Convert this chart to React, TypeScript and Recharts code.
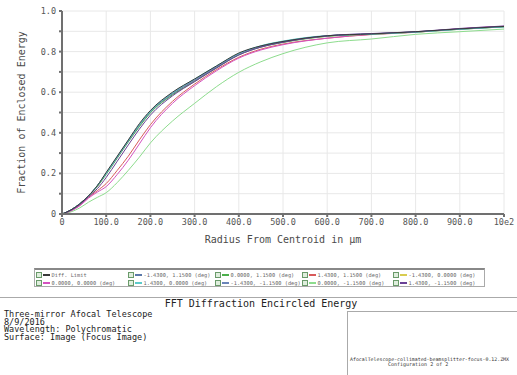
import React from 'react';
import { LineChart, Line, XAxis, YAxis, CartesianGrid } from 'recharts';

// radius from centroid (µm)
const radius = [0, 20, 40, 60, 80, 100, 125, 150, 175, 200, 250, 300, 350, 400, 450, 500, 600, 700, 800, 900, 1000];

const diffLimit = [0, 0.02, 0.05, 0.09, 0.14, 0.205, 0.285, 0.365, 0.445, 0.51, 0.6, 0.665, 0.73, 0.793, 0.828, 0.85, 0.878, 0.887, 0.898, 0.912, 0.924];
const fM143P115 = [0, 0.02, 0.05, 0.09, 0.14, 0.2, 0.28, 0.36, 0.437, 0.503, 0.592, 0.658, 0.724, 0.788, 0.825, 0.848, 0.877, 0.887, 0.897, 0.911, 0.923];
const f0P115 = [0, 0.02, 0.048, 0.088, 0.135, 0.195, 0.275, 0.355, 0.43, 0.498, 0.587, 0.653, 0.72, 0.784, 0.822, 0.845, 0.875, 0.886, 0.896, 0.91, 0.922];
const fP143P115 = [0, 0.016, 0.042, 0.082, 0.115, 0.15, 0.215, 0.285, 0.365, 0.44, 0.555, 0.64, 0.712, 0.772, 0.812, 0.837, 0.866, 0.884, 0.895, 0.912, 0.924];
const fM143Z0 = [0, 0.02, 0.05, 0.09, 0.138, 0.2, 0.28, 0.358, 0.435, 0.502, 0.59, 0.656, 0.722, 0.786, 0.825, 0.847, 0.876, 0.886, 0.896, 0.91, 0.922];
const f0Z0 = [0, 0.015, 0.04, 0.078, 0.108, 0.135, 0.195, 0.265, 0.345, 0.425, 0.545, 0.632, 0.706, 0.768, 0.808, 0.834, 0.866, 0.885, 0.896, 0.913, 0.925];
const fP143Z0 = [0, 0.02, 0.05, 0.09, 0.14, 0.2, 0.282, 0.362, 0.44, 0.506, 0.597, 0.665, 0.73, 0.79, 0.829, 0.852, 0.879, 0.886, 0.896, 0.91, 0.922];
const fM143M115 = [0, 0.02, 0.05, 0.09, 0.14, 0.2, 0.28, 0.36, 0.437, 0.505, 0.594, 0.66, 0.726, 0.789, 0.827, 0.849, 0.878, 0.888, 0.897, 0.911, 0.923];
const f0M115 = [0, 0.01, 0.03, 0.058, 0.082, 0.105, 0.155, 0.215, 0.28, 0.35, 0.458, 0.545, 0.628, 0.698, 0.75, 0.79, 0.843, 0.862, 0.885, 0.898, 0.911];
const fP143M115 = [0, 0.018, 0.046, 0.085, 0.125, 0.18, 0.26, 0.34, 0.418, 0.487, 0.582, 0.652, 0.72, 0.783, 0.822, 0.846, 0.878, 0.889, 0.898, 0.914, 0.926];

const xTicks = [0, 100, 200, 300, 400, 500, 600, 700, 800, 900, 1000];
const yTicks = [0, 0.1, 0.2, 0.3, 0.4, 0.5, 0.6, 0.7, 0.8, 0.9, 1.0];

// legend order (row by row), draw order is separate
const SERIES = [
  { key: 'diff', name: 'Diff. Limit', color: '#3a3a3a', values: diffLimit },
  { key: 'm143p115', name: '-1.4300, 1.1500 (deg)', color: '#5b78a8', values: fM143P115 },
  { key: 'z0p115', name: '0.0000, 1.1500 (deg)', color: '#4cb04c', values: f0P115 },
  { key: 'p143p115', name: '1.4300, 1.1500 (deg)', color: '#d85a5a', values: fP143P115 },
  { key: 'm143z0', name: '-1.4300, 0.0000 (deg)', color: '#d8cc50', values: fM143Z0 },
  { key: 'z0z0', name: '0.0000, 0.0000 (deg)', color: '#d452c0', values: f0Z0 },
  { key: 'p143z0', name: '1.4300, 0.0000 (deg)', color: '#5ccaca', values: fP143Z0 },
  { key: 'm143m115', name: '-1.4300, -1.1500 (deg)', color: '#6a84b8', values: fM143M115 },
  { key: 'z0m115', name: '0.0000, -1.1500 (deg)', color: '#8ddc8d', values: f0M115 },
  { key: 'p143m115', name: '1.4300, -1.1500 (deg)', color: '#6a4096', values: fP143M115 },
];
const drawOrder = ['z0m115', 'p143p115', 'z0z0', 'm143z0', 'z0p115', 'm143p115', 'm143m115', 'p143z0', 'p143m115', 'diff'];

const data = radius.map((r, i) => {
  const row: any = { r };
  SERIES.forEach(s => { row[s.key] = s.values[i]; });
  return row;
});

const MONO = '"DejaVu Sans Mono", monospace';
const legendCols = [36, 128, 215, 302, 393];
const legendRows = [275, 283];

const App = () => {
  return (
    <div style={{ position: 'relative', width: 517, height: 375, background: '#fff', fontFamily: MONO, overflow: 'hidden' }}>
      <style>{'body{margin:0}'}</style>
      <div style={{ position: 'absolute', left: 0, top: 0 }}>
        <LineChart width={517} height={248} data={data} margin={{ top: 11, right: 13, left: 0, bottom: 4 }}>
          <CartesianGrid stroke="#e8e8e8" horizontalValues={yTicks} verticalValues={xTicks} />
          <XAxis
            dataKey="r"
            type="number"
            domain={[0, 1000]}
            ticks={xTicks}
            tickFormatter={(v) => (v === 0 ? '0' : v === 1000 ? '10e2' : v.toFixed(1))}
            tick={{ fill: '#555', fontSize: 8.5, fontFamily: MONO }}
            tickSize={3}
            tickMargin={2}
            stroke="#707070"
            strokeWidth={2}
            height={30}
            label={{ value: 'Radius From Centroid in µm', position: 'insideBottom', offset: 1, fill: '#4a4a4a', fontSize: 10, fontFamily: MONO }}
          />
          <YAxis
            type="number"
            domain={[0, 1]}
            ticks={yTicks}
            interval={0}
            tickFormatter={(v) => {
              const k = Math.round(v * 10);
              if (k === 0) return '0';
              return k % 2 === 0 ? (k / 10).toFixed(1) : '';
            }}
            tick={{ fill: '#555', fontSize: 8.5, fontFamily: MONO }}
            tickSize={3}
            tickMargin={3}
            stroke="#707070"
            strokeWidth={2}
            width={62}
            label={{ value: 'Fraction of Enclosed Energy', angle: -90, position: 'center', dx: -10, fill: '#4a4a4a', fontSize: 10, fontFamily: MONO }}
          />
          {drawOrder.map(k => {
            const s = SERIES.find(x => x.key === k)!;
            return (
              <Line
                key={k}
                type="monotone"
                dataKey={k}
                name={s.name}
                stroke={s.color}
                strokeWidth={1}
                dot={false}
                isAnimationActive={false}
              />
            );
          })}
        </LineChart>
      </div>

      {/* legend */}
      <div style={{ position: 'absolute', left: 34, top: 268, width: 451, height: 19, border: '1px solid #aaa', borderTopWidth: 2, borderTopColor: '#888', boxSizing: 'border-box' }} />
      {SERIES.map((s, i) => {
        const col = i % 5;
        const row = Math.floor(i / 5);
        return (
          <div key={s.key} style={{ position: 'absolute', left: legendCols[col], top: legendRows[row] - 4, height: 8, display: 'flex', alignItems: 'center', whiteSpace: 'nowrap' }}>
            <div style={{ width: 4, height: 4, border: '1px solid #6a9a6a', background: '#dfeedd', marginRight: 1 }} />
            <div style={{ width: 7, height: 1.5, background: s.color, marginRight: 1.5 }} />
            <span style={{ fontSize: 5.3, color: '#666', fontFamily: MONO, lineHeight: '8px' }}>{s.name}</span>
          </div>
        );
      })}

      {/* title block */}
      <div style={{ position: 'absolute', left: 0, top: 297, width: 517, height: 1, background: '#aaa' }} />
      <div style={{ position: 'absolute', left: 0, top: 298, width: 522, textAlign: 'center', fontSize: 10, lineHeight: '12px', color: '#222' }}>
        FFT Diffraction Encircled Energy
      </div>
      <div style={{ position: 'absolute', left: 347, top: 311, width: 170, height: 1, background: '#aaa' }} />
      <div style={{ position: 'absolute', left: 347, top: 311, width: 1, height: 64, background: '#aaa' }} />
      <div style={{ position: 'absolute', left: 4, top: 311, fontSize: 8.5, lineHeight: '7.6px', color: '#222', whiteSpace: 'pre' }}>
        {'Three-mirror Afocal Telescope\n8/9/2016\nWavelength: Polychromatic\nSurface: Image (Focus Image)'}
      </div>
      <div style={{ position: 'absolute', left: 350, top: 357, fontSize: 4.9, lineHeight: '5px', color: '#333', whiteSpace: 'nowrap' }}>
        AfocalTelescope-collimated-beamsplitter-focus-0.12.ZMX
      </div>
      <div style={{ position: 'absolute', left: 388, top: 362, fontSize: 5, lineHeight: '5px', color: '#333', whiteSpace: 'nowrap' }}>
        Configuration 2 of 2
      </div>
    </div>
  );
};

export default App;
